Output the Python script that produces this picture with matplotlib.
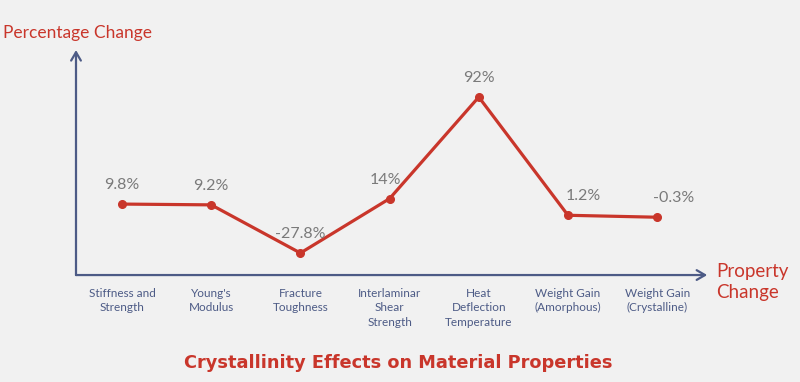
"""
Crystallinity effects on material properties - line chart with arrow axes.
Writes out.png (800x382).
"""
import matplotlib
matplotlib.use("Agg")
import matplotlib.pyplot as plt

categories = ["Stiffness and\nStrength", "Young's\nModulus", "Fracture\nToughness",
              "Interlaminar\nShear\nStrength", "Heat\nDeflection\nTemperature",
              "Weight Gain\n(Amorphous)", "Weight Gain\n(Crystalline)"]
values = [9.8, 9.2, -27.8, 14, 92, 1.2, -0.3]
value_labels = ["9.8%", "9.2%", "-27.8%", "14%", "92%", "1.2%", "-0.3%"]

RED = "#c9362b"
AXIS = "#4d5b86"
GREY = "#7a7a7a"
BG = "#f1f1f1"

# label nudges (points) so the last two sit clear of the line
label_dx = [0, 0, 0, -3, 0, 11, 12]

plt.rcParams["font.family"] = ["Lato", "DejaVu Sans"]

fig = plt.figure(figsize=(8, 3.82), dpi=100)
fig.patch.set_facecolor(BG)
ax = fig.add_axes([0.095, 0.280, 0.789, 0.589])
ax.set_facecolor("none")

x = list(range(len(values)))
ax.plot(x, values, color=RED, lw=2.3, marker="o", ms=5.5, solid_capstyle="round")
for xi, v, lab, dx in zip(x, values, value_labels, label_dx):
    ax.annotate(lab, (xi, v), xytext=(dx, 8.5), textcoords="offset points",
                ha="center", va="bottom", color=GREY, fontsize=11.5)

ax.set_xlim(-0.516, 6.561)
ax.set_ylim(-44.7, 128.1)
for s in ax.spines.values():
    s.set_visible(False)
ax.set_yticks([])
ax.set_xticks(x)
ax.set_xticklabels(categories, color=AXIS, fontsize=8.5, linespacing=1.4, va="top")
ax.tick_params(axis="x", length=0, pad=9)

# arrow axes
arrow = dict(arrowstyle="->,head_length=0.6,head_width=0.35", color=AXIS, lw=1.6,
             shrinkA=0, shrinkB=0)
ax.annotate("", xy=(0, 1), xytext=(0, 0), xycoords="axes fraction",
            textcoords="axes fraction", arrowprops=arrow)
ax.annotate("", xy=(1, 0), xytext=(0, 0), xycoords="axes fraction",
            textcoords="axes fraction", arrowprops=arrow)

fig.text(0.004, 0.913, "Percentage Change", color=RED, fontsize=12.5,
         ha="left", va="center")
fig.text(0.895, 0.262, "Property\nChange", color=RED, fontsize=13.5,
         ha="left", va="center", linespacing=1.3)
fig.text(0.498, 0.050, "Crystallinity Effects on Material Properties", color=RED,
         fontsize=12.8, fontweight="heavy", ha="center", va="center",
         family=["DejaVu Sans"])

fig.savefig("out.png", dpi=100, facecolor=BG)
